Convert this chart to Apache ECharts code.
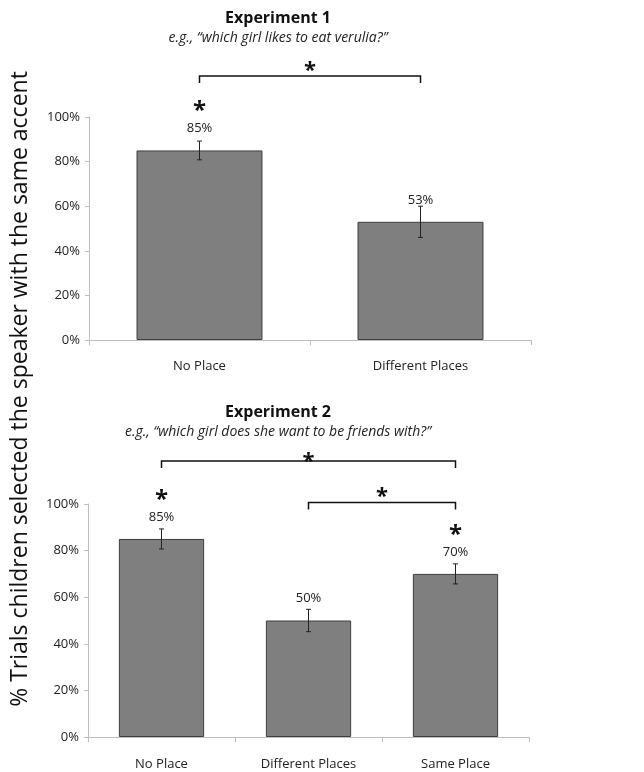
<!DOCTYPE html>
<html>
<head>
<meta charset="utf-8">
<script src="https://cdn.jsdelivr.net/npm/echarts@6/dist/echarts.min.js"></script>
<style>
  html, body { margin: 0; padding: 0; background: #fff; }
  #chart { width: 644px; height: 772px; }
</style>
</head>
<body>
<div id="chart"></div>
<script>
// values
var exp1Categories = ['No Place', 'Different Places'];
var exp1Values = [85, 53];
var exp1Errors = [4.2, 7];
var exp1Stars = [true, false];
var exp1Brackets = [[0, 1, 118.4, 124.2]]; // from, to, bracket level (%), star level (%)

var exp2Categories = ['No Place', 'Different Places', 'Same Place'];
var exp2Values = [85, 50, 70];
var exp2Errors = [4.3, 4.8, 4.3];
var exp2Stars = [true, false, true];
var exp2Brackets = [[0, 2, 118.5, 121.4], [1, 2, 100.6, 106.4]];

var yMax = 100;
var yStep = 20;

var FONT = 'Open Sans';
var TEXT = '#222';
var AXIS = '#bfbfbf';

var myChart = echarts.init(document.getElementById('chart'));

function barData(values, stars) {
    return values.map(function (v, i) {
        return {
            value: v,
            label: { formatter: stars[i] ? '{s|*}\n{v|' + v + '%}' : '{v|' + v + '%}' }
        };
    });
}

function errorData(values, errors) {
    return values.map(function (v, i) { return [i, v - errors[i], v + errors[i]]; });
}

function renderError(params, api) {
    var lo = api.coord([api.value(0), api.value(1)]);
    var hi = api.coord([api.value(0), api.value(2)]);
    var cap = 2.5;
    var st = { stroke: '#222', lineWidth: 1 };
    return {
        type: 'group',
        children: [
            { type: 'line', shape: { x1: hi[0], y1: hi[1], x2: lo[0], y2: lo[1] }, style: st },
            { type: 'line', shape: { x1: hi[0] - cap, y1: hi[1], x2: hi[0] + cap, y2: hi[1] }, style: st },
            { type: 'line', shape: { x1: lo[0] - cap, y1: lo[1], x2: lo[0] + cap, y2: lo[1] }, style: st }
        ]
    };
}

function renderBracket(params, api) {
    var a = api.coord([api.value(0), api.value(2)]);
    var b = api.coord([api.value(1), api.value(2)]);
    var s = api.coord([api.value(1), api.value(3)]);
    var leg = 7;
    var st = { stroke: '#111', lineWidth: 1.5, fill: null };
    return {
        type: 'group',
        children: [
            { type: 'polyline', shape: { points: [[a[0], a[1] + leg], [a[0], a[1]], [b[0], b[1]], [b[0], b[1] + leg]] }, style: st },
            { type: 'text', x: (a[0] + b[0]) / 2, y: s[1] + 8,
              style: { text: '*', font: 'bold 22px ' + FONT, fill: '#111', align: 'center', verticalAlign: 'middle' } }
        ]
    };
}

function xAxisFor(idx, cats, margin) {
    return {
        type: 'category', gridIndex: idx, data: cats,
        axisLine: { lineStyle: { color: AXIS } },
        axisTick: { show: true, length: 5, lineStyle: { color: AXIS } },
        axisLabel: { color: TEXT, fontFamily: FONT, fontSize: 13, margin: margin }
    };
}

function yAxisFor(idx) {
    return {
        type: 'value', gridIndex: idx, min: 0, max: yMax, interval: yStep,
        axisLine: { show: true, lineStyle: { color: AXIS } },
        axisTick: { show: true, length: 4, lineStyle: { color: AXIS } },
        splitLine: { show: false },
        axisLabel: { color: TEXT, fontFamily: FONT, fontSize: 13, margin: 9, formatter: '{value}%' }
    };
}

var barLabel = {
    show: true, position: 'top', distance: 14, color: TEXT,
    rich: {
        s: { fontFamily: FONT, fontSize: 24, fontWeight: 'bold', color: '#111', lineHeight: 18 },
        v: { fontFamily: FONT, fontSize: 13, color: TEXT, lineHeight: 16 }
    }
};

var barStyle = { color: '#7f7f7f', borderColor: '#3f3f3f', borderWidth: 1 };

var titleStyle = { fontFamily: FONT, fontSize: 16, fontWeight: 'bold', color: '#111' };
var subStyle = { fontFamily: FONT, fontSize: 14, fontStyle: 'italic', color: '#222' };

var option = {
    animation: false,
    title: [
        { text: 'Experiment 1', subtext: 'e.g., \u201cwhich girl likes to eat verulia?\u201d',
          left: 273, top: 5, textAlign: 'center', itemGap: 5, textStyle: titleStyle, subtextStyle: subStyle },
        { text: 'Experiment 2', subtext: 'e.g., \u201cwhich girl does she want to be friends with?\u201d',
          left: 273, top: 399, textAlign: 'center', itemGap: 5, textStyle: titleStyle, subtextStyle: subStyle }
    ],
    grid: [
        { left: 89, width: 442, top: 117, height: 223 },
        { left: 88, width: 441, top: 504, height: 233 }
    ],
    xAxis: [xAxisFor(0, exp1Categories, 20), xAxisFor(1, exp2Categories, 21)],
    yAxis: [yAxisFor(0), yAxisFor(1)],
    graphic: [{
        type: 'text', x: 20, y: 389, rotation: Math.PI / 2,
        style: { text: '% Trials children selected the speaker with the same accent',
                 font: '23px ' + FONT, fill: '#111', align: 'center', verticalAlign: 'middle' }
    }],
    series: [
        { type: 'bar', xAxisIndex: 0, yAxisIndex: 0, barWidth: '57%', data: barData(exp1Values, exp1Stars),
          itemStyle: barStyle, label: barLabel },
        { type: 'custom', xAxisIndex: 0, yAxisIndex: 0, data: errorData(exp1Values, exp1Errors),
          renderItem: renderError, z: 5 },
        { type: 'custom', xAxisIndex: 0, yAxisIndex: 0, data: exp1Brackets,
          renderItem: renderBracket, clip: false, z: 5 },
        { type: 'bar', xAxisIndex: 1, yAxisIndex: 1, barWidth: '58%', data: barData(exp2Values, exp2Stars),
          itemStyle: barStyle, label: barLabel },
        { type: 'custom', xAxisIndex: 1, yAxisIndex: 1, data: errorData(exp2Values, exp2Errors),
          renderItem: renderError, z: 5 },
        { type: 'custom', xAxisIndex: 1, yAxisIndex: 1, data: exp2Brackets,
          renderItem: renderBracket, clip: false, z: 5 }
    ]
};

myChart.setOption(option);
</script>
</body>
</html>
